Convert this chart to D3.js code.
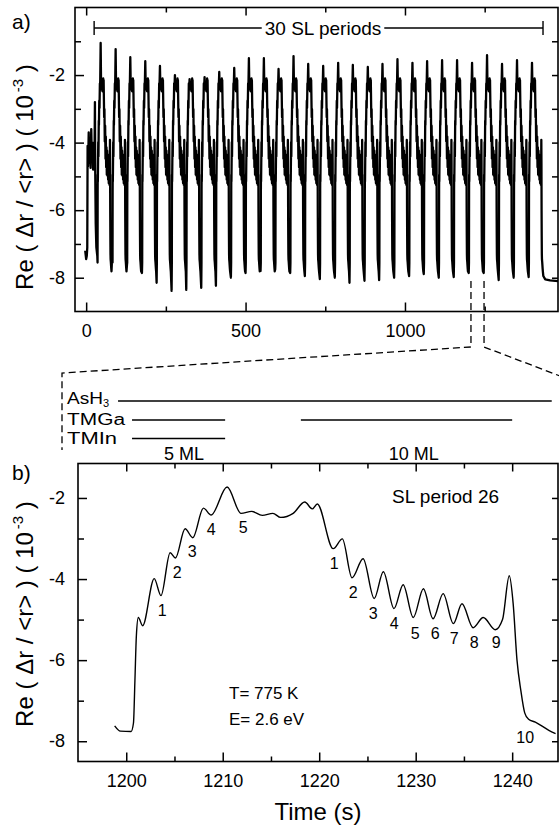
<!DOCTYPE html>
<html><head><meta charset="utf-8">
<script src="https://cdn.jsdelivr.net/npm/d3@7"></script>
<style>
body{margin:0;background:#fff}
svg{display:block}
text{font-family:"Liberation Sans",Arial,Helvetica,sans-serif;fill:#000;white-space:pre}
</style>
</head><body>
<svg id="c" width="559" height="833"></svg>
<script>
// ---------- DATA ----------
// Panel b : SL period 26, time (s) and Re(Δr/<r>) (10^-3)
const periodTime = [1198.8, 1199.4, 1200.5, 1200.75, 1200.9, 1201.05, 1201.25, 1201.7, 1202.9, 1203.6, 1204.55, 1205.1, 1206.1, 1206.9, 1208.0, 1208.8, 1210.45, 1211.9, 1213.0, 1214.1, 1215.2, 1216.0, 1217.3, 1218.5, 1219.3, 1219.8, 1221.45, 1222.4, 1223.4, 1224.55, 1225.7, 1226.65, 1227.75, 1228.7, 1229.75, 1230.8, 1231.8, 1232.85, 1233.9, 1234.8, 1235.95, 1237.0, 1238.25, 1239.0, 1239.7, 1240.1, 1240.5, 1240.9, 1241.3, 1241.7, 1242.4, 1243.8, 1244.5];
const periodSignal = [-7.62, -7.75, -7.76, -7.55, -6.5, -5.4, -4.95, -5.15, -3.99, -4.41, -3.35, -3.48, -2.76, -2.98, -2.25, -2.42, -1.73, -2.38, -2.33, -2.43, -2.38, -2.48, -2.38, -2.10, -2.27, -2.15, -3.25, -3.01, -3.97, -3.50, -4.48, -3.82, -4.73, -4.14, -4.95, -4.24, -4.98, -4.36, -5.10, -4.61, -5.20, -4.95, -5.25, -5.0, -3.92, -4.6, -6.0, -6.75, -7.3, -7.46, -7.53, -7.73, -7.81];
const periodStart = 1200;      // low point that opens SL period 26
const periodPeakIndex = 16;    // index of the main maximum in periodSignal

// Panel a : the 30 SL periods — time of each minimum, its depth, and the peak that follows
const minTime = [35, 82, 128, 175, 221, 268, 314, 361, 407, 454, 500, 547, 593, 640, 686, 733, 780, 826, 873, 919, 966, 1013, 1059, 1106, 1153, 1200, 1247, 1294, 1341, 1388];
const minSignal = [-7.36, -7.27, -7.62, -7.86, -8.15, -8.39, -8.36, -8.30, -8.24, -8.0, -7.86, -7.80, -7.75, -7.86, -7.95, -8.04, -8.0, -8.15, -8.09, -8.07, -8.0, -7.95, -7.89, -8.0, -7.98, -7.86, -7.86, -8.07, -8.0, -7.98];
const peakSignal = [-1.05, -1.23, -1.47, -1.59, -1.73, -2.0, -2.12, -2.06, -1.91, -1.79, -1.50, -1.50, -1.82, -1.44, -1.67, -1.73, -1.64, -1.70, -1.76, -1.67, -1.53, -1.64, -1.59, -1.56, -1.56, -1.64, -1.41, -1.67, -1.56, -1.64];
// start of the record before the first period, and the end after the last one
const leadTime = [-3, 0, 2, 3.5, 4.5, 6, 8, 10, 12, 14, 16, 18, 20, 22, 24, 26, 27.5, 28.5, 30, 32];
const leadSignal = [-7.2, -7.45, -7.35, -7.1, -4.1, -4.7, -3.7, -4.6, -3.9, -4.75, -3.6, -4.5, -4.0, -4.8, -4.2, -4.7, -2.8, -4.9, -6.4, -7.1];
const tailTime = [1434, 1440, 1455, 1480];
const tailSignal = [-7.95, -8.05, -8.08, -8.1];

// axes ticks
const aXMajor = [0, 500, 1000], aXMinor = [250, 750, 1250];
const aYMajor = [-2, -4, -6, -8], aYMinor = [-1, -3, -5, -7], aYRight = [-1, -2, -3, -4, -5, -6, -7, -8];
const bXMajor = [1200, 1210, 1220, 1230, 1240], bXMinor = [1205, 1215, 1225, 1235];
const bYMajor = [-2, -4, -6, -8], bYMinor = [-3, -5, -7], bYRight = [-2, -3, -4, -5, -6, -7, -8];

// annotations
const bracketSpan = [25, 1433];
const zoomWindow = [1207, 1248];
const gasNames = ["AsH", "TMGa", "TMIn"];
const gasPulses = [[[1199.15, 1244.1]], [[1200.6, 1210.25], [1218.1, 1240.0]], [[1200.6, 1210.25]]];
const layerLabels = [["5 ML", 1206], ["10 ML", 1229.8]];
const dipLabels = [
  ["1", 1203.73, -4.90], ["2", 1205.28, -3.97], ["3", 1206.84, -3.45], ["4", 1208.81, -2.91], ["5", 1212.12, -2.86],
  ["1", 1221.55, -3.75], ["2", 1223.52, -4.46], ["3", 1225.6, -4.98], ["4", 1227.77, -5.22], ["5", 1229.95, -5.47],
  ["6", 1232.02, -5.47], ["7", 1234.0, -5.59], ["8", 1236.06, -5.69], ["9", 1238.34, -5.71], ["10", 1241.35, -8.05]
];

// ---------- BUILD ----------
const periodData = periodTime.map((t, i) => ({t, v: periodSignal[i]}));
const topData = leadTime.map((t, i) => ({t, v: leadSignal[i]}));
minTime.forEach((m, k) => {
  topData.push({t: m, v: minSignal[k]});
  periodTime.forEach((t, i) => {
    const tau = t - periodStart;
    if (tau <= 0.6) return;
    topData.push({t: m + tau, v: i === periodPeakIndex ? peakSignal[k] : periodSignal[i]});
  });
});
tailTime.forEach((t, i) => topData.push({t, v: tailSignal[i]}));

const svg = d3.select("#c");
svg.append("rect").attr("width", 559).attr("height", 833).attr("fill", "#fff");

const xA = d3.scaleLinear().domain([-35, 1480]).range([75, 558]);
const yA = d3.scaleLinear().domain([-9, 0]).range([311.5, 7.5]);
const xB = d3.scaleLinear().domain([1195, 1244.75]).range([78, 558]);
const yB = d3.scaleLinear().domain([-8.5, -1.15]).range([761.5, 463.5]);

function styleAxis(sel) {
  sel.select(".domain").remove();
  sel.attr("font-family", null).attr("font-size", null);
  sel.selectAll("line").attr("stroke-width", 1.5);
  sel.selectAll("text").attr("font-size", 18);
}

function frameAxes(x, y, xMaj, xMin, yMaj, yMin, yRight, padL, padB) {
  const [x0, x1] = x.range();
  const [y0, y1] = y.range();
  const g = svg.append("g");
  g.append("g").attr("transform", `translate(0,${y0})`)
    .call(d3.axisBottom(x).tickValues(xMaj).tickSize(-9).tickPadding(padB).tickFormat(d => String(d))).call(styleAxis);
  g.append("g").attr("transform", `translate(0,${y0})`)
    .call(d3.axisBottom(x).tickValues(xMin).tickSize(-5).tickFormat("")).call(styleAxis);
  g.append("g").attr("transform", `translate(0,${y1})`)
    .call(d3.axisTop(x).tickValues(xMaj).tickSize(-8).tickFormat("")).call(styleAxis);
  g.append("g").attr("transform", `translate(0,${y1})`)
    .call(d3.axisTop(x).tickValues(xMin).tickSize(-5).tickFormat("")).call(styleAxis);
  g.append("g").attr("transform", `translate(${x0},0)`)
    .call(d3.axisLeft(y).tickValues(yMaj).tickSize(-9).tickPadding(padL).tickFormat(d => String(d))).call(styleAxis);
  g.append("g").attr("transform", `translate(${x0},0)`)
    .call(d3.axisLeft(y).tickValues(yMin).tickSize(-6).tickFormat("")).call(styleAxis);
  g.append("g").attr("transform", `translate(${x1},0)`)
    .call(d3.axisRight(y).tickValues(yRight).tickSize(-6).tickFormat("")).call(styleAxis);
  g.append("rect").attr("x", x0).attr("y", y1).attr("width", x1 - x0).attr("height", y0 - y1)
    .attr("fill", "none").attr("stroke", "#000").attr("stroke-width", 1.6);
}

function yTitle(cx, cy) {
  const t = svg.append("text").attr("transform", `translate(${cx},${cy}) rotate(-90)`)
    .attr("text-anchor", "middle").attr("font-size", 24);
  t.append("tspan").text("Re ( Δr / <r> ) ( 10");
  t.append("tspan").attr("font-size", 15).attr("dy", -10).attr("dx", 3).text("-3");
  t.append("tspan").attr("dy", 10).text(" )");
}

// ----- Panel a -----
svg.append("path").datum(topData)
  .attr("d", d3.line().x(d => xA(d.t)).y(d => yA(d.v)))
  .attr("fill", "none").attr("stroke", "#000").attr("stroke-width", 2.3).attr("stroke-linejoin", "round");
frameAxes(xA, yA, aXMajor, aXMinor, aYMajor, aYMinor, aYRight, 10, 13);
yTitle(33, 177);
svg.append("text").attr("x", 12).attr("y", 29).attr("font-size", 21).text("a)");

// bracket "30 SL periods"
const brY = 28;
const brLabel = svg.append("text").attr("x", 323).attr("y", brY + 7).attr("text-anchor", "middle")
  .attr("font-size", 19).text("30 SL periods");
const bb = brLabel.node().getBBox();
const brG = svg.append("g").attr("stroke", "#000").attr("stroke-width", 1.4);
brG.append("line").attr("x1", xA(bracketSpan[0])).attr("x2", bb.x - 3).attr("y1", brY).attr("y2", brY);
brG.append("line").attr("x1", bb.x + bb.width + 3).attr("x2", xA(bracketSpan[1])).attr("y1", brY).attr("y2", brY);
bracketSpan.forEach(s => brG.append("line").attr("x1", xA(s)).attr("x2", xA(s)).attr("y1", brY - 7).attr("y2", brY + 7));

// zoom connector (dashed)
const zx0 = xA(zoomWindow[0]), zx1 = xA(zoomWindow[1]), zy = yA(-8.1);
svg.append("path")
  .attr("d", `M${zx0},${zy}V347L62,373V450M${zx1},${zy}V347L560,376`)
  .attr("fill", "none").attr("stroke", "#000").attr("stroke-width", 1.3).attr("stroke-dasharray", "7,4");

// ----- Panel b legend (gas pulses) -----
const gasY = [401, 420, 438.5];
const gasBase = [404, 425, 444];
const gasWidth = [36, 58, 50];
gasNames.forEach((n, i) => {
  const t = svg.append("text").attr("x", 67).attr("y", gasBase[i]).attr("font-size", 16);
  t.append("tspan").attr("textLength", gasWidth[i]).attr("lengthAdjust", "spacingAndGlyphs").text(n);
  if (i === 0) t.append("tspan").attr("font-size", 11).attr("dy", 3).text("3");
  gasPulses[i].forEach(p => svg.append("line").attr("x1", xB(p[0])).attr("x2", xB(p[1]))
    .attr("y1", gasY[i]).attr("y2", gasY[i]).attr("stroke", "#000").attr("stroke-width", 1.5));
});
layerLabels.forEach(([s, t]) => svg.append("text").attr("x", xB(t)).attr("y", 460)
  .attr("text-anchor", "middle").attr("font-size", 18).text(s));

// ----- Panel b -----
svg.append("path").datum(periodData)
  .attr("d", d3.line().curve(d3.curveMonotoneX).x(d => xB(d.t)).y(d => yB(d.v)))
  .attr("fill", "none").attr("stroke", "#000").attr("stroke-width", 1.4);
frameAxes(xB, yB, bXMajor, bXMinor, bYMajor, bYMinor, bYRight, 13, 13);
yTitle(33, 614);
svg.append("text").attr("x", 12).attr("y", 480).attr("font-size", 21).text("b)");
svg.append("text").attr("x", xB(1195 + 49.75 / 2)).attr("y", 820).attr("text-anchor", "middle")
  .attr("font-size", 24).text("Time (s)");
svg.append("text").attr("x", 392).attr("y", 503).attr("font-size", 19).text("SL period 26");
svg.append("text").attr("x", 229).attr("y", 699).attr("font-size", 17).text("T= 775 K");
svg.append("text").attr("x", 229).attr("y", 725).attr("font-size", 17).text("E= 2.6 eV");
dipLabels.forEach(([s, t, v]) => svg.append("text").attr("x", xB(t)).attr("y", yB(v))
  .attr("text-anchor", "middle").attr("font-size", 16).text(s));
</script>
</body></html>
